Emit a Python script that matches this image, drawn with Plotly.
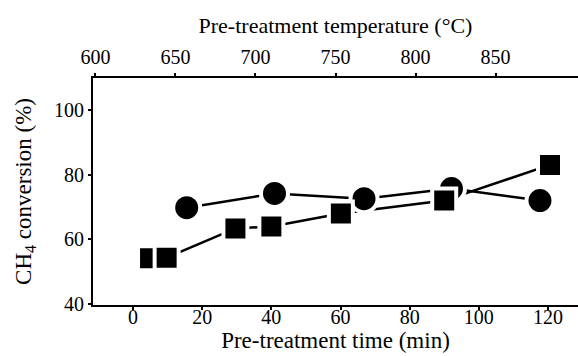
import plotly.graph_objects as go

# Data
circle_time = [15.5, 40.9, 66.8, 92.1, 117.7]
circle_conv = [69.8, 74.2, 72.6, 75.7, 72.0]
square_time = [4.9, 9.7, 29.6, 40.0, 60.1, 90.0, 120.6]
square_conv = [54.2, 54.4, 63.4, 64.0, 68.0, 72.0, 83.0]

x_ticks = [0, 20, 40, 60, 80, 100, 120]
y_ticks = [40, 60, 80, 100]
top_ticks = [600, 650, 700, 750, 800, 850]

FONT = "Liberation Serif"
TICKFONT = dict(family=FONT, size=20, color="black")

fig = go.Figure()
# lines first
fig.add_trace(go.Scatter(x=circle_time, y=circle_conv, mode="lines",
                         line=dict(color="black", width=2.5), showlegend=False, hoverinfo="skip"))
fig.add_trace(go.Scatter(x=square_time, y=square_conv, mode="lines",
                         line=dict(color="black", width=2.5), showlegend=False, hoverinfo="skip"))
# markers on top, white outline gives the gap between line and marker
fig.add_trace(go.Scatter(x=circle_time, y=circle_conv, mode="markers", name="circle",
                         marker=dict(symbol="circle", size=27, color="black",
                                     line=dict(color="white", width=4)), showlegend=False))
fig.add_trace(go.Scatter(x=square_time, y=square_conv, mode="markers", name="square",
                         marker=dict(symbol="square", size=24, color="black",
                                     line=dict(color="white", width=4)), showlegend=False))
# dummy trace for top axis
fig.add_trace(go.Scatter(x=[700], y=[None], xaxis="x2", mode="markers", showlegend=False,
                         hoverinfo="skip"))

fig.update_layout(
    width=578, height=356,
    margin=dict(l=93, r=0, t=78, b=51),
    paper_bgcolor="white", plot_bgcolor="white",
    font=dict(family=FONT, size=20, color="black"),
    xaxis=dict(range=[-11.6, 128.7], tickvals=x_ticks, showgrid=False, zeroline=False,
               automargin=False, tickfont=TICKFONT, ticklabelstandoff=-10,
               showline=True, linecolor="black", linewidth=2, ticks="outside", ticklen=3,
               tickwidth=1.5, tickcolor="black",
               title=dict(text="Pre-treatment time (min)", standoff=4,
                          font=dict(family=FONT, size=23, color="black"))),
    xaxis2=dict(range=[598.5, 901.5], tickvals=top_ticks, overlaying="x", side="top",
                automargin=False, tickfont=TICKFONT,
                showgrid=False, zeroline=False, showline=True, linecolor="black", linewidth=2,
                ticks="outside", ticklen=3, tickwidth=1.5, tickcolor="black",
                ticklabelstandoff=1,
                title=dict(text="Pre-treatment temperature (°C)", standoff=6,
                           font=dict(family=FONT, size=22, color="black"))),
    yaxis=dict(range=[39.8, 109.8], tickvals=y_ticks, showgrid=False, zeroline=False,
               automargin=False, tickfont=TICKFONT,
               showline=True, linecolor="black", linewidth=2, ticks="outside", ticklen=3,
               tickwidth=1.5, tickcolor="black",
               title=dict(text="CH<sub>4</sub> conversion (%)", standoff=16,
                          font=dict(family=FONT, size=23, color="black"))),
)

fig.write_html("out.html", config={"displayModeBar": False},
               post_script="document.body.style.margin='0px';")
